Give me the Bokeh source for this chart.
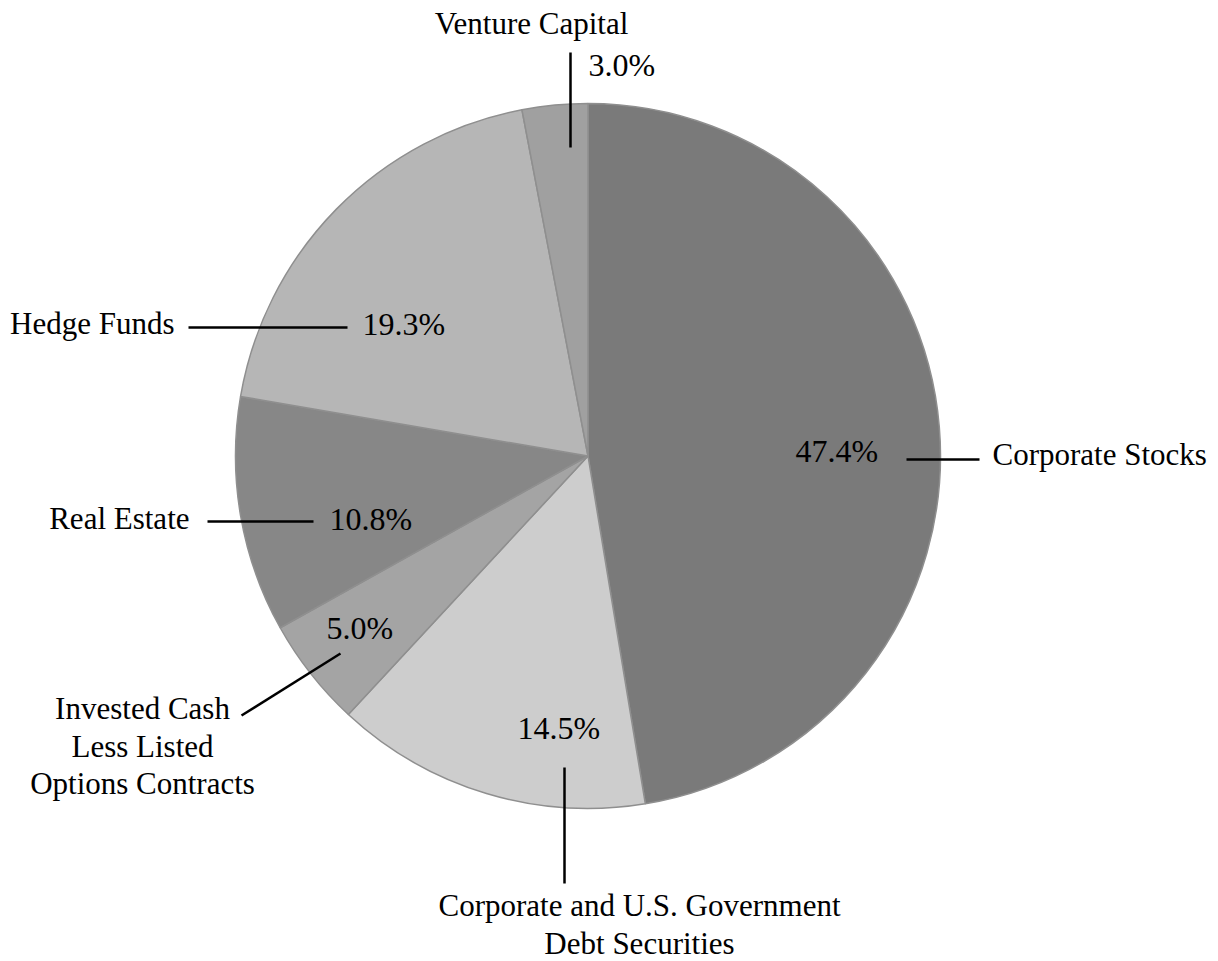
import math
from bokeh.plotting import figure
from bokeh.models import Range1d
from bokeh.core.properties import value
from bokeh.embed import file_html
from bokeh.resources import INLINE

# ---- data ----
categories = ["Corporate Stocks",
              "Corporate and U.S. Government Debt Securities",
              "Invested Cash Less Listed Options Contracts",
              "Real Estate",
              "Hedge Funds",
              "Venture Capital"]
shares = [47.4, 14.5, 5.0, 10.8, 19.3, 3.0]
pct_labels = ["47.4%", "14.5%", "5.0%", "10.8%", "19.3%", "3.0%"]
colors = ["#7a7a7a", "#cdcdcd", "#a4a4a4", "#878787", "#b6b6b6", "#a0a0a0"]

# ---- layout (picture pixel coordinates, y downward) ----
W, H = 1218, 961
CX, CY, R = 587.5, 455.5, 352.5
FONT = "Liberation Serif"
FS_CAT = "31px"
FS_PCT = "32px"

p = figure(width=W, height=H, output_backend="svg", toolbar_location=None,
           x_range=Range1d(0, W), y_range=Range1d(-H, 0),
           x_axis_location=None, y_axis_location=None, min_border=0,
           outline_line_color=None)
p.grid.visible = False
p.background_fill_color = "white"
p.border_fill_color = "white"

total = sum(shares)
starts, ends = [], []
cum = 0.0
for s in shares:
    starts.append(math.pi / 2 - 2 * math.pi * cum / total)
    cum += s
    ends.append(math.pi / 2 - 2 * math.pi * cum / total)

p.wedge(x=[CX] * len(shares), y=[-CY] * len(shares), radius=R,
        start_angle=starts, end_angle=ends, direction="clock",
        fill_color=colors, line_color="#8f8f8f", line_width=1.5)

# leader lines (x0, y0, x1, y1)
leaders = [
    (906, 459, 979, 459),    # Corporate Stocks
    (564, 767, 564, 883),    # Debt
    (340, 653, 241, 715),    # Invested Cash
    (207, 521, 313, 521),    # Real Estate
    (188, 327, 347, 327),    # Hedge Funds
    (570, 52, 570, 147),     # Venture Capital
]
p.segment(x0=[l[0] for l in leaders], y0=[-l[1] for l in leaders],
          x1=[l[2] for l in leaders], y1=[-l[3] for l in leaders],
          line_color="black", line_width=2.5)

# percentage labels: (x, y, align)
pct_pos = [(795, 450, "left"), (517, 727, "left"), (326, 627, "left"),
           (329, 518, "left"), (362, 323, "left"), (588, 64, "left")]
for txt, (x, y, a) in zip(pct_labels, pct_pos):
    p.text(x=[x], y=[-y], text=[txt], text_font=value(FONT), text_font_size=FS_PCT,
           text_align=a, text_baseline="middle", text_color="black")

# category labels, split into display lines: (lines, x, first y, align)
cat_lines = [
    (["Corporate Stocks"], 992, 454, "left"),
    (["Corporate and U.S. Government", "Debt Securities"], 639, 905, "center"),
    (["Invested Cash", "Less Listed", "Options Contracts"], 142, 708, "center"),
    (["Real Estate"], 189, 518, "right"),
    (["Hedge Funds"], 174, 323, "right"),
    (["Venture Capital"], 531, 23, "center"),
]
LH = 37.5
for lines, x, y0, a in cat_lines:
    for i, ln in enumerate(lines):
        p.text(x=[x], y=[-(y0 + i * LH)], text=[ln], text_font=value(FONT),
               text_font_size=FS_CAT, text_align=a, text_baseline="middle",
               text_color="black")

open("out.html", "w").write(file_html(p, INLINE))
